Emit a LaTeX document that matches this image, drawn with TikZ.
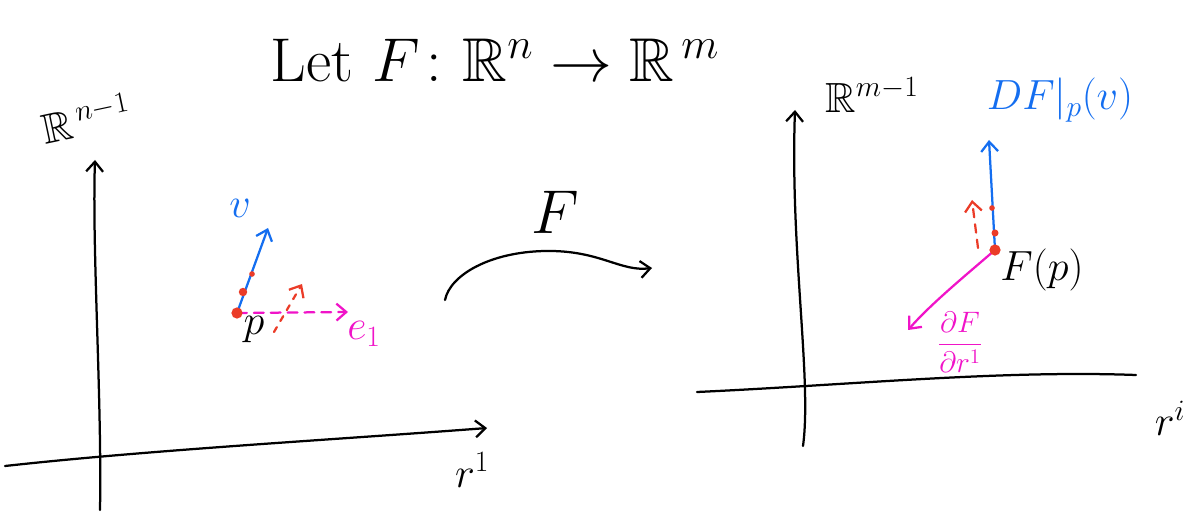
\RequirePackage{fix-cm}
\documentclass[tikz,border=0pt]{standalone}
\usepackage{amsmath,amssymb}
\usetikzlibrary{arrows.meta}
\definecolor{hblue}{RGB}{20,110,240}
\definecolor{hred}{RGB}{235,60,40}
\definecolor{hpink}{RGB}{240,20,200}
\tikzset{
  ink/.style={line width=1.6pt, line cap=round, line join=round},
  axis/.style={ink, black, -{Straight Barb[length=7pt,width=12pt]}},
  vec/.style={ink, -{Straight Barb[length=7pt,width=12pt]}},
  dashvec/.style={ink, dashed, dash pattern=on 7pt off 5pt, -{Straight Barb[length=7pt,width=12pt]}},
  dot/.style={circle, fill=hred, inner sep=0pt, minimum size=6pt},
  lbl/.style={inner sep=1pt, font=\fontsize{30}{34}\selectfont}
}
\begin{document}
\begin{tikzpicture}[x=0.025cm, y=-0.025cm]
\useasboundingbox (0,0) rectangle (1188,517);
% ---------- title ----------
\node[lbl, font=\fontsize{44}{48}\selectfont] (title) at (495,60) {Let $F\colon \mathbb{R}^n \to \mathbb{R}^{\,m}$};
% ---------- left axes ----------
\coordinate (lvb) at (100,510);
\coordinate (lvt) at (95,160);
\coordinate (lhl) at (5,466);
\coordinate (lhr) at (487,428);
\draw[axis] (lvb) .. controls (102,400) and (92,250) .. (lvt);
\draw[axis] (lhl) .. controls (150,450) and (330,440) .. (lhr);
\node[lbl, rotate=12] (Rn) at (86,118) {$\mathbb{R}^{\,n-1}$};
\node[lbl] (r1) at (472,470) {$r^1$};
% ---------- left vectors ----------
\coordinate (p) at (237,313);
\coordinate (vt) at (268,228);
\coordinate (et) at (348,312);
\coordinate (rb) at (274,332);
\coordinate (rt) at (302,284);
\draw[dashvec, hpink] (p) -- (et);
\draw[dashvec, hred, dash pattern=on 4pt off 5pt] (rb) -- (rt);
\draw[vec, hblue] (p) -- (vt);
\node[dot, minimum size=8pt] (pd) at (p) {};
\node[dot] (d1) at (243,292) {};
\node[dot, minimum size=4pt] (d2) at (252,274) {};
\node[lbl, hblue] (vl) at (240,208) {$v$};
\node[lbl] (pl) at (254,330) {$p$};
\node[lbl, hpink] (e1) at (364,334) {$e_1$};
% ---------- F arrow ----------
\node[lbl, font=\fontsize{44}{48}\selectfont] (Fl) at (555,212) {$F$};
\coordinate (fa) at (445,300);
\coordinate (fb) at (652,268);
\draw[vec] (fa) .. controls (450,275) and (490,252) .. (545,251) .. controls (600,250) and (620,272) .. (fb);
% ---------- right axes ----------
\coordinate (rvb) at (803,446);
\coordinate (rvt) at (795,110);
\coordinate (rhl) at (697,392);
\coordinate (rhr) at (1136,375);
\draw[axis] (rvb) .. controls (812,380) and (790,250) .. (rvt);
\draw[ink] (rhl) .. controls (850,385) and (1000,370) .. (rhr);
\node[lbl] (Rm) at (872,95) {$\mathbb{R}^{m-1}$};
\node[lbl] (ri) at (1170,418) {$r^i$};
% ---------- right vectors ----------
\coordinate (Fp) at (995,250);
\coordinate (dft) at (989,140);
\coordinate (pft) at (908,330);
\coordinate (rdb) at (978,248);
\coordinate (rdt) at (972,200);
\draw[dashvec, hred, dash pattern=on 6pt off 5pt] (rdb) -- (rdt);
\draw[vec, hblue] (Fp) -- (dft);
\draw[vec, hpink] (Fp) .. controls (960,280) and (930,305) .. (pft);
\node[dot, minimum size=8pt] (Fpd) at (Fp) {};
\node[dot, minimum size=4pt] (d3) at (992,208) {};
\node[dot, minimum size=5pt] (d4) at (995,233) {};
\node[lbl, hblue] (DF) at (1060,100) {$DF|_p(v)$};
\node[lbl] (Fpl) at (1042,270) {$F(p)$};
\node[lbl, hpink, font=\fontsize{21}{24}\selectfont] (dF) at (960,342) {$\dfrac{\partial F}{\partial r^1}$};
\end{tikzpicture}
\end{document}
